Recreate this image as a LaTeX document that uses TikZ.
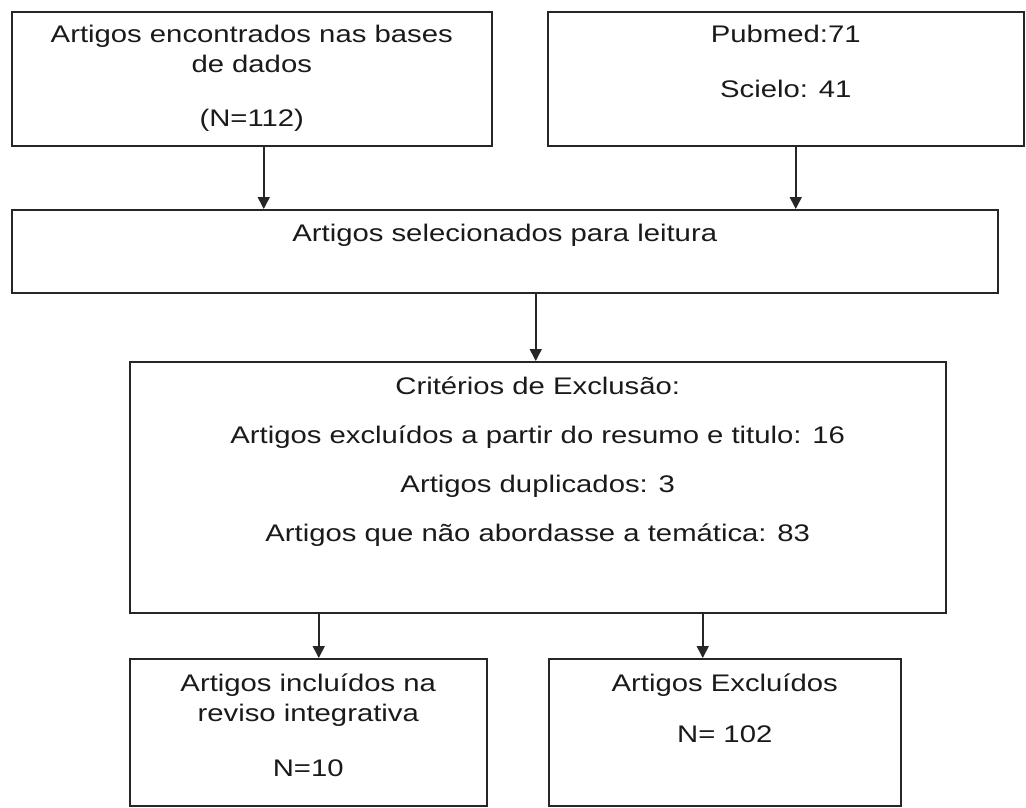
\documentclass[tikz,border=0pt]{standalone}
\usepackage{fontspec}
\setmainfont{Liberation Sans}[FakeStretch=1.22]
\usetikzlibrary{positioning,arrows.meta}
\definecolor{lineGray}{HTML}{262626}
\definecolor{textGray}{HTML}{1A1A1A}

\begin{document}
\begin{tikzpicture}[
    x=1pt, y=-1pt,
    box/.style={
        rectangle, draw=lineGray, line width=1.5pt,
        anchor=north west, inner sep=0pt
    },
    txt/.style={
        inner sep=0pt, align=center, text=textGray,
        font=\fontsize{24}{30}\selectfont
    },
    arrow/.style={-{Triangle[length=12pt,width=12pt]}, line width=1.5pt, draw=lineGray}
]
  \useasboundingbox (0,0) rectangle (1026,807);

  % Boxes
  \node[box, minimum width=480pt, minimum height=134pt] (src) at (11,11) {};
  \node[box, minimum width=476pt, minimum height=134pt] (bases) at (547,11) {};
  \node[box, minimum width=986pt, minimum height=83pt] (sel) at (11,209) {};
  \node[box, minimum width=816pt, minimum height=251pt] (crit) at (129,361) {};
  \node[box, minimum width=357pt, minimum height=147pt] (incl) at (129,658) {};
  \node[box, minimum width=352pt, minimum height=147pt] (excl) at (548,658) {};

  % Texts
  \node[txt, below=13.8pt of src.north] (srcTxt) {Artigos encontrados nas bases\\de dados\\[24pt](N=112)};
  \node[txt, below=13.8pt of bases.north] (basesTxt) {Pubmed:71\\[25pt]Scielo: 41};
  \node[txt, below=14.8pt of sel.north] (selTxt) {Artigos selecionados para leitura};
  \node[txt, below=15.5pt of crit.north] (critTxt) {Critérios de Exclusão:\\[19pt]Artigos excluídos a partir do resumo e titulo: 16\\[19pt]Artigos duplicados: 3\\[19pt]Artigos que não abordasse a temática: 83};
  \node[txt, below=15.5pt of incl.north] (inclTxt) {Artigos incluídos na\\reviso integrativa\\[25pt]N=10};
  \node[txt, below=15.5pt of excl.north] (exclTxt) {Artigos Excluídos\\[21pt]N= 102};

  % Arrows
  \draw[arrow] ([xshift=12pt]src.south) -- ([xshift=12pt]src.south |- sel.north);
  \draw[arrow] ([xshift=10pt]bases.south) -- ([xshift=10pt]bases.south |- sel.north);
  \draw[arrow] ([xshift=-2pt]crit.north |- sel.south) -- ([xshift=-2pt]crit.north);
  \draw[arrow] ([xshift=10.5pt]incl.north |- crit.south) -- ([xshift=10.5pt]incl.north);
  \draw[arrow] ([xshift=-22pt]excl.north |- crit.south) -- ([xshift=-22pt]excl.north);

\end{tikzpicture}
\end{document}
